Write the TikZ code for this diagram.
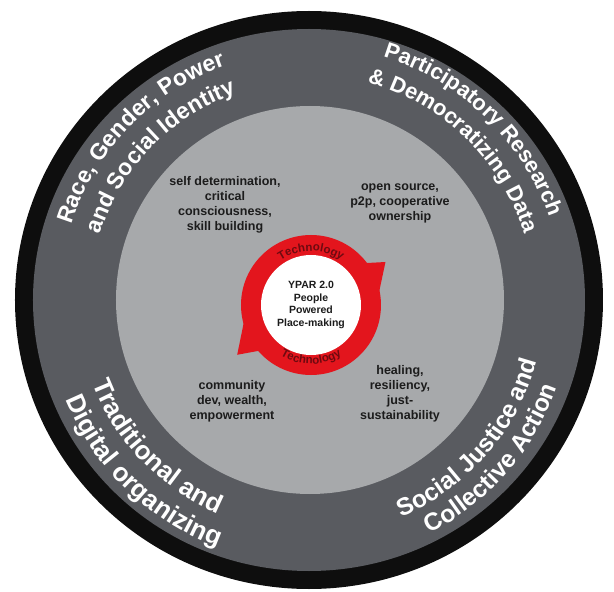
\documentclass[tikz,border=0pt]{standalone}
\usepackage{fontspec}
\setmainfont{Liberation Sans}
\usetikzlibrary{decorations.text}
\definecolor{ringblack}{HTML}{0E0E0E}
\definecolor{darkring}{HTML}{595B60}
\definecolor{lightdisc}{HTML}{A7A9AB}
\definecolor{cyclered}{HTML}{E3151D}
\definecolor{techred}{HTML}{6E0A10}
\definecolor{inktext}{HTML}{1C1C1C}
\tikzset{
  ringtext/.style 2 args={decorate, decoration={text along path, text align=center,
      text color=white, text={|\fontsize{#1}{#1}\selectfont\bfseries|#2}}},
  techtext/.style={decorate, decoration={text along path, text align=center,
      text color=techred, text={|\fontsize{11.5}{11.5}\selectfont\bfseries|#1}}},
  theme/.style={font=\fontsize{12.5}{15}\selectfont\bfseries, text=inktext,
      align=center, inner sep=0pt},
  core/.style={circle, fill=white, minimum size=100pt, inner sep=0pt,
      font=\fontsize{10.5}{12.5}\selectfont\bfseries, text=inktext, align=center}
}
\begin{document}
\begin{tikzpicture}[x=1pt,y=1pt]
\useasboundingbox (-307,-292) rectangle (307,300);
% rings
\fill[ringblack] (2,0) ellipse [x radius=294pt, y radius=289pt];
\fill[darkring] (2,0) ellipse [x radius=276pt, y radius=271pt];
\fill[lightdisc] (3,0) circle [radius=194pt];
% outer curved labels
\begin{scope}[shift={(2,0)}]
  \path[ringtext={23}{Race, Gender, Power}] (216:249) arc[start angle=216, end angle=56, radius=249pt];
  \path[ringtext={23}{and Social Identity}] (216:219) arc[start angle=216, end angle=56, radius=219pt];
  \path[ringtext={22}{Participatory Research}] (126:254) arc[start angle=126, end angle=-34, radius=254pt];
  \path[ringtext={22}{{\&} Democratizing Data}] (126:225) arc[start angle=126, end angle=-34, radius=225pt];
  \path[ringtext={26}{Traditional and}] (144:232) arc[start angle=144, end angle=304, radius=232pt];
  \path[ringtext={26}{Digital organizing}] (146:263) arc[start angle=146, end angle=306, radius=263pt];
  \path[ringtext={24.5}{Social Justice and}] (239:236) arc[start angle=239, end angle=399, radius=236pt];
  \path[ringtext={24.5}{Collective Action}] (239:263) arc[start angle=239, end angle=399, radius=263pt];
\end{scope}
% inner themes
\node[theme] (selfdet) at (-82,95) {self determination,\\critical\\consciousness,\\skill building};
\node[theme] (opensrc) at (93,97) {open source,\\p2p, cooperative\\ownership};
\node[theme] (commdev) at (-75,-101) {community\\dev, wealth,\\empowerment};
\node[theme] (healing) at (93,-94) {healing,\\resiliency,\\just-\\sustainability};
% red cycle
\begin{scope}[shift={(4,-5)}]
  \fill[cyclered, even odd rule] (0,0) circle[radius=70pt] (0,0) circle[radius=49pt];
  \fill[cyclered] (38:68) -- (30:86) -- (8:68) -- cycle;
  \fill[cyclered] (222:68) -- (214:89) -- (192:68) -- cycle;
  \path[techtext={Technology}] (150:54) arc[start angle=150, end angle=30, radius=54pt];
  \path[techtext={Technology}] (210:59) arc[start angle=210, end angle=330, radius=59pt];
\end{scope}
\node[core] (ypar) at (4,-5) {YPAR 2.0\\People\\Powered\\Place-making};
\end{tikzpicture}
\end{document}
